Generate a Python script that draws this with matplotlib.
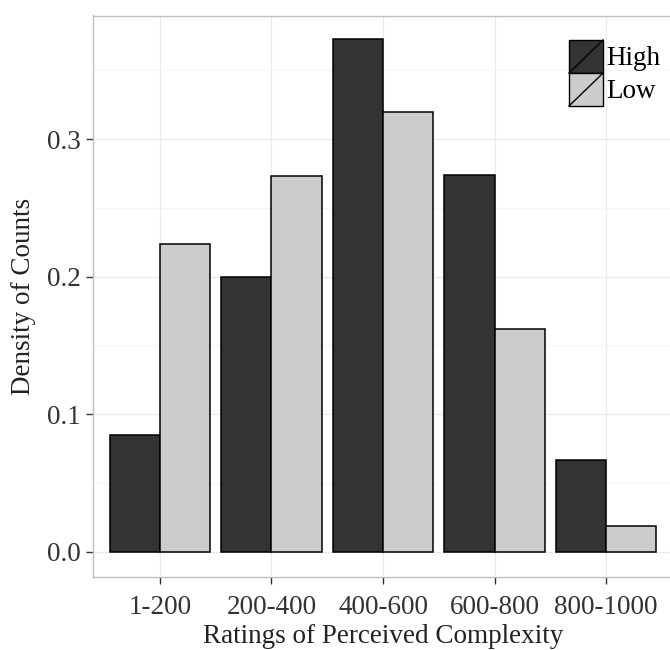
import matplotlib
matplotlib.use("Agg")
import matplotlib.pyplot as plt
import numpy as np
from matplotlib.legend_handler import HandlerBase
from matplotlib.patches import Rectangle
from matplotlib.lines import Line2D

categories = ["1-200", "200-400", "400-600", "600-800", "800-1000"]
high = [0.085, 0.200, 0.373, 0.274, 0.067]
low = [0.224, 0.273, 0.320, 0.162, 0.019]
groups = ["High", "Low"]
colors = ["#333333", "#CCCCCC"]
yticks = [0.0, 0.1, 0.2, 0.3]

plt.rcParams["font.family"] = ["Liberation Serif", "DejaVu Serif"]
FS = 19.5

fig = plt.figure(figsize=(6.7, 6.5), dpi=100)
W, H = 670, 650
left, right, top, bottom = 93, 673, 15.5, 576.7
ax = fig.add_axes([left / W, 1 - bottom / H, (right - left) / W, (bottom - top) / H])

x = np.arange(1, len(categories) + 1)
bw = 0.45
for vals, col, off in [(high, colors[0], -bw / 2), (low, colors[1], bw / 2)]:
    ax.bar(x + off, vals, width=bw, color=col, edgecolor="black", linewidth=1.1, zorder=3)

ax.set_xlim(0.4, 5.6)
ax.set_ylim(-0.0182, 0.390)
ax.set_xticks(x)
ax.set_xticklabels(categories)
ax.set_yticks(yticks)
ax.set_yticklabels([f"{v:.1f}" for v in yticks])
ax.set_yticks(np.arange(0.05, 0.4, 0.1), minor=True)
ax.tick_params(axis="both", which="major", length=5, width=1, color="#333333",
               labelsize=FS, labelcolor="#333333", pad=4)
ax.tick_params(axis="x", which="major", pad=8)
ax.tick_params(axis="y", which="minor", length=0)

ax.grid(True, which="major", color="#EBEBEB", linewidth=1.0, zorder=0)
ax.grid(True, which="minor", axis="y", color="#F5F5F5", linewidth=0.8, zorder=0)
ax.set_axisbelow(True)
for s in ax.spines.values():
    s.set_color("#BFBFBF")
    s.set_linewidth(1.0)

ax.set_xlabel("Ratings of Perceived Complexity", fontsize=FS, color="#222222", labelpad=3)
ax.set_ylabel("Density of Counts", fontsize=FS, color="#222222", labelpad=8)


class SlashBoxHandler(HandlerBase):
    def create_artists(self, legend, orig_handle, xdescent, ydescent, width, height,
                       fontsize, trans):
        fc = orig_handle.get_facecolor()
        rect = Rectangle((-xdescent, -ydescent), width, height, facecolor=fc,
                         edgecolor="black", linewidth=1.0, transform=trans)
        line = Line2D([-xdescent, -xdescent + width], [-ydescent, -ydescent + height],
                      color="black", linewidth=1.0, transform=trans)
        return [rect, line]


handles = [Rectangle((0, 0), 1, 1, facecolor=c) for c in colors]
leg = ax.legend(handles, groups, loc="upper left", bbox_to_anchor=(476 / 580, 1 - 24.5 / 561.2),
                frameon=False, fontsize=FS, handlelength=1.26, handleheight=1.497,
                handletextpad=0.12, labelspacing=0.0, borderpad=0.0, borderaxespad=0.0,
                handler_map={Rectangle: SlashBoxHandler()})

fig.savefig("out.png", dpi=100)
